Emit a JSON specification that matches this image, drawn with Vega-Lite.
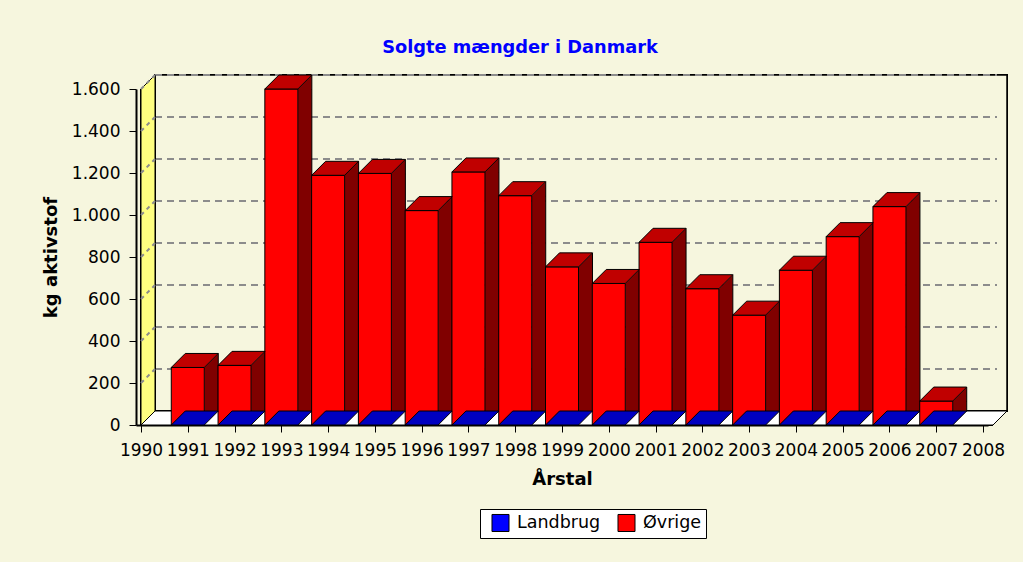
{
  "$schema": "https://vega.github.io/schema/vega-lite/v6.json",
  "width": 852,
  "height": 336,
  "autosize": "none",
  "padding": {"left": 136, "top": 89, "right": 35, "bottom": 137},
  "background": "#F6F6DE",
  "config": {
    "view": {"stroke": null},
    "font": "DejaVu Sans"
  },
  "title": {
    "text": "Solgte mængder i Danmark",
    "color": "#0000FF",
    "font": "DejaVu Sans",
    "fontSize": 17.8,
    "fontWeight": "bold",
    "anchor": "middle",
    "dx": -42,
    "offset": 15
  },
  "datasets": {
    "salg": [
      {"aar": 1991, "serie": "Øvrige", "kg": 274},
      {"aar": 1992, "serie": "Øvrige", "kg": 284},
      {"aar": 1993, "serie": "Øvrige", "kg": 1600},
      {"aar": 1994, "serie": "Øvrige", "kg": 1189},
      {"aar": 1995, "serie": "Øvrige", "kg": 1198},
      {"aar": 1996, "serie": "Øvrige", "kg": 1021},
      {"aar": 1997, "serie": "Øvrige", "kg": 1205},
      {"aar": 1998, "serie": "Øvrige", "kg": 1092},
      {"aar": 1999, "serie": "Øvrige", "kg": 753},
      {"aar": 2000, "serie": "Øvrige", "kg": 674},
      {"aar": 2001, "serie": "Øvrige", "kg": 870},
      {"aar": 2002, "serie": "Øvrige", "kg": 649},
      {"aar": 2003, "serie": "Øvrige", "kg": 523},
      {"aar": 2004, "serie": "Øvrige", "kg": 737},
      {"aar": 2005, "serie": "Øvrige", "kg": 897},
      {"aar": 2006, "serie": "Øvrige", "kg": 1040},
      {"aar": 2007, "serie": "Øvrige", "kg": 114},
      {"aar": 1991, "serie": "Landbrug", "kg": 0},
      {"aar": 1992, "serie": "Landbrug", "kg": 0},
      {"aar": 1993, "serie": "Landbrug", "kg": 0},
      {"aar": 1994, "serie": "Landbrug", "kg": 0},
      {"aar": 1995, "serie": "Landbrug", "kg": 0},
      {"aar": 1996, "serie": "Landbrug", "kg": 0},
      {"aar": 1997, "serie": "Landbrug", "kg": 0},
      {"aar": 1998, "serie": "Landbrug", "kg": 0},
      {"aar": 1999, "serie": "Landbrug", "kg": 0},
      {"aar": 2000, "serie": "Landbrug", "kg": 0},
      {"aar": 2001, "serie": "Landbrug", "kg": 0},
      {"aar": 2002, "serie": "Landbrug", "kg": 0},
      {"aar": 2003, "serie": "Landbrug", "kg": 0},
      {"aar": 2004, "serie": "Landbrug", "kg": 0},
      {"aar": 2005, "serie": "Landbrug", "kg": 0},
      {"aar": 2006, "serie": "Landbrug", "kg": 0},
      {"aar": 2007, "serie": "Landbrug", "kg": 0}
    ],
    "gitter": [
      {"v": 200}, {"v": 400}, {"v": 600}, {"v": 800},
      {"v": 1000}, {"v": 1200}, {"v": 1400}, {"v": 1600}
    ]
  },
  "data": {"name": "salg"},
  "layer": [
    {
      "mark": {"type": "point", "shape": "M 14 -14 L 14 -350 L 866 -350 L 866 -14 Z", "size": 4, "filled": true, "fill": "#F6F6DE", "stroke": "black", "strokeWidth": 1.5, "opacity": 1},
      "encoding": {
        "x": {"datum": 1990, "type": "quantitative"},
        "y": {"datum": 0, "type": "quantitative"}
      }
    },
    {
      "data": {"name": "gitter"},
      "mark": {"type": "rule", "stroke": "#8C8C8C", "strokeWidth": 2, "strokeDash": [7, 5], "xOffset": 14, "x2Offset": 14, "yOffset": -14},
      "encoding": {
        "x": {"datum": 1990, "type": "quantitative"},
        "x2": {"datum": 2008},
        "y": {"field": "v", "type": "quantitative"}
      }
    },
    {
      "mark": {"type": "point", "shape": "M 0 0 L 0 -336 L 14 -350 L 14 -14 Z", "size": 4, "filled": true, "fill": "#FFFF80", "stroke": "black", "strokeWidth": 1, "opacity": 1},
      "encoding": {
        "x": {"datum": 1990, "type": "quantitative"},
        "y": {"datum": 0, "type": "quantitative"}
      }
    },
    {
      "data": {"name": "gitter"},
      "mark": {"type": "rule", "stroke": "#8C8C8C", "strokeWidth": 2, "strokeDash": [4, 4], "x2Offset": 14, "y2Offset": -14},
      "encoding": {
        "x": {"datum": 1990, "type": "quantitative"},
        "x2": {"datum": 1990},
        "y": {"field": "v", "type": "quantitative"},
        "y2": {"field": "v"}
      }
    },
    {
      "mark": {"type": "point", "shape": "M 0 0 L 852 0 L 866 -14 L 14 -14 Z", "size": 4, "filled": true, "fill": "white", "stroke": "black", "strokeWidth": 1, "opacity": 1},
      "encoding": {
        "x": {"datum": 1990, "type": "quantitative"},
        "y": {"datum": 0, "type": "quantitative"}
      }
    },
    {
      "transform": [{"filter": "datum.serie === 'Øvrige'"}],
      "mark": {"type": "bar", "size": 14, "xOffset": 23.5, "y2Offset": -14, "fill": "#800000", "strokeWidth": 0},
      "encoding": {
        "x": {"field": "aar", "type": "quantitative"},
        "y": {"field": "kg", "type": "quantitative", "stack": null},
        "y2": {"datum": 0}
      }
    },
    {
      "transform": [{"filter": "datum.serie === 'Øvrige'"}],
      "mark": {"type": "point", "shape": "M 16.5 0 L 30.5 -14 L 30.5 1 L 16.5 1 Z", "size": 4, "filled": true, "fill": "#800000", "strokeWidth": 0, "opacity": 1},
      "encoding": {
        "x": {"field": "aar", "type": "quantitative"},
        "y": {"field": "kg", "type": "quantitative"}
      }
    },
    {
      "transform": [{"filter": "datum.serie === 'Øvrige'"}],
      "mark": {"type": "rule", "stroke": "black", "strokeWidth": 1, "xOffset": 30.5, "yOffset": -14, "y2Offset": -14},
      "encoding": {
        "x": {"field": "aar", "type": "quantitative"},
        "y": {"field": "kg", "type": "quantitative"},
        "y2": {"datum": 0}
      }
    },
    {
      "transform": [{"filter": "datum.serie === 'Øvrige'"}],
      "mark": {"type": "bar", "size": 33, "stroke": "black", "strokeWidth": 1},
      "encoding": {
        "x": {
          "field": "aar", "type": "quantitative",
          "scale": {"domain": [1990, 2008], "nice": false, "zero": false},
          "axis": {
            "values": [1990, 1991, 1992, 1993, 1994, 1995, 1996, 1997, 1998, 1999, 2000, 2001, 2002, 2003, 2004, 2005, 2006, 2007, 2008],
            "format": "d",
            "title": "Årstal",
            "titleFont": "DejaVu Sans",
            "titleFontSize": 18,
            "titleFontWeight": "bold",
            "titleColor": "black",
            "titlePadding": 12,
            "labelFont": "DejaVu Sans",
            "labelFontSize": 17,
            "labelColor": "black",
            "labelPadding": 10,
            "labelOverlap": false,
            "labelFlush": false,
            "tickSize": 7,
            "tickColor": "black",
            "domainColor": "black",
            "domainWidth": 2,
            "grid": false
          }
        },
        "y": {
          "field": "kg", "type": "quantitative", "stack": null,
          "scale": {"domain": [0, 1600], "nice": false},
          "axis": {
            "values": [0, 50, 100, 150, 200, 250, 300, 350, 400, 450, 500, 550, 600, 650, 700, 750, 800, 850, 900, 950, 1000, 1050, 1100, 1150, 1200, 1250, 1300, 1350, 1400, 1450, 1500, 1550, 1600],
            "labelExpr": "datum.value % 200 === 0 ? replace(format(datum.value, ','), ',', '.') : ''",
            "title": "kg aktivstof",
            "titleFont": "DejaVu Sans",
            "titleFontSize": 18,
            "titleFontWeight": "bold",
            "titleColor": "black",
            "titlePadding": 11,
            "labelFont": "DejaVu Sans",
            "labelFontSize": 17,
            "labelColor": "black",
            "labelPadding": 9,
            "labelOverlap": false,
            "tickSize": {"condition": {"test": "datum.value % 200 === 0", "value": 7}, "value": 3},
            "tickColor": "black",
            "domainColor": "black",
            "domainWidth": 2,
            "grid": false
          }
        },
        "color": {
          "field": "serie", "type": "nominal",
          "scale": {"domain": ["Landbrug", "Øvrige"], "range": ["#0000FF", "#FF0000"]},
          "legend": {
            "orient": "none",
            "legendX": 344,
            "legendY": 420,
            "direction": "horizontal",
            "columns": 2,
            "title": null,
            "fillColor": "white",
            "strokeColor": "black",
            "padding": 4,
            "symbolOffset": 7,
            "symbolType": "square",
            "symbolSize": 290,
            "symbolStrokeColor": "black",
            "symbolStrokeWidth": 1,
            "labelFont": "DejaVu Sans",
            "labelFontSize": 17.5,
            "labelColor": "black",
            "labelOffset": 7,
            "labelExpr": "datum.label === 'Øvrige' ? 'Øvrige\u00a0\u00a0\u00a0\u00a0\u00a0\u00a0' : datum.label",
            "columnPadding": 9
          }
        }
      }
    },
    {
      "transform": [{"filter": "datum.serie === 'Øvrige'"}],
      "mark": {"type": "point", "shape": "M -16.5 0 L 16.5 0 L 30.5 -14 L -2.5 -14 Z", "size": 4, "filled": true, "fill": "#C00000", "stroke": "black", "strokeWidth": 1, "opacity": 1},
      "encoding": {
        "x": {"field": "aar", "type": "quantitative"},
        "y": {"field": "kg", "type": "quantitative"}
      }
    },
    {
      "transform": [{"filter": "datum.serie === 'Landbrug'"}],
      "mark": {"type": "point", "shape": "M -16.5 0 L 16.5 0 L 30.5 -14 L -2.5 -14 Z", "size": 4, "filled": true, "fill": "#0000C0", "stroke": "black", "strokeWidth": 1, "opacity": 1},
      "encoding": {
        "x": {"field": "aar", "type": "quantitative"},
        "y": {"field": "kg", "type": "quantitative"}
      }
    }
  ]
}
